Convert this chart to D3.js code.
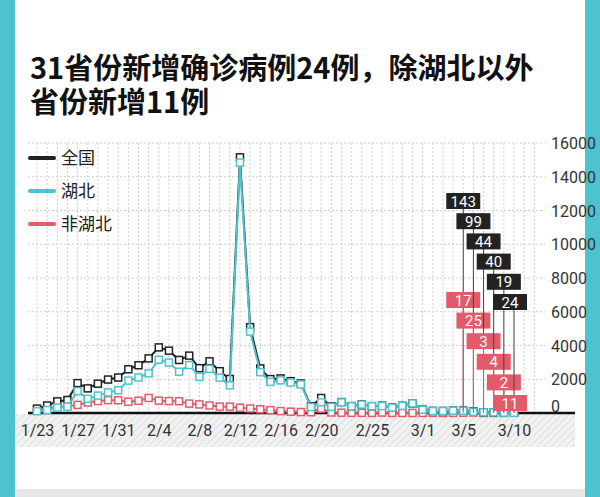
<!DOCTYPE html>
<html><head><meta charset="utf-8">
<script src="https://cdn.jsdelivr.net/npm/d3@7"></script>
<style>
body{margin:0;background:#fff;font-family:"Noto Sans CJK SC","Noto Sans",sans-serif;}
</style></head><body>
<svg id="chart" width="600" height="497"></svg>
<script>
// --- dati: 1/23 .. 3/10 ---
const startDate = new Date(2020, 0, 23);
const national = [259,444,688,769,1771,1459,1737,1982,2102,2590,2829,3235,3887,3694,3143,3399,2656,3062,2478,2015,15152,5090,2641,2009,2048,1886,1749,394,889,397,648,409,508,406,433,327,427,573,202,125,119,139,143,99,44,40,19,24];
const hubei = [105,180,323,371,1291,840,1032,1220,1347,1921,2103,2345,3156,2987,2447,2841,2147,2618,2097,1638,14840,4823,2420,1843,1933,1807,1693,349,631,366,630,398,499,401,409,318,423,570,196,114,115,134,126,74,41,36,17,13];
const nonHubei = [154,264,365,398,480,619,705,762,755,669,726,890,731,707,696,558,509,444,381,377,312,267,221,166,115,79,56,45,258,31,18,11,9,5,24,9,4,3,6,11,4,5,17,25,3,4,2,11];
const tickLabels = ["1/23","1/27","1/31","2/4","2/8","2/12","2/16","2/20","2/25","3/1","3/5","3/10"];
const yTicks = [0,2000,4000,6000,8000,10000,12000,14000,16000];
const legendItems = [["全国","#222"],["湖北","#4cc3cf"],["非湖北","#e35a6a"]];

const svg = d3.select("#chart");
const day = i => d3.timeDay.offset(startDate, i);
const x = d3.scaleTime().domain([startDate, day(47)]).range([37, 514]);
const y = d3.scaleLinear().domain([0, 16000]).range([413, 143]);

// bordi laterali
svg.append("rect").attr("x",0).attr("y",0).attr("width",15).attr("height",497).attr("fill","#4cc3cf");
svg.append("rect").attr("x",585).attr("y",0).attr("width",15).attr("height",497).attr("fill","#4cc3cf");
svg.append("rect").attr("x",15).attr("y",489).attr("width",570).attr("height",8).attr("fill","#e6e6e6");

// titolo
const title = svg.append("text").attr("font-size",29).attr("font-weight","bold").attr("fill","#111");
title.append("tspan").attr("x",30).attr("y",79).text("31省份新增确诊病例24例，除湖北以外");
title.append("tspan").attr("x",30).attr("y",113).text("省份新增11例");

// griglia
const defs = svg.append("defs");
const pat = defs.append("pattern").attr("id","hatch").attr("width",5).attr("height",5)
  .attr("patternUnits","userSpaceOnUse").attr("patternTransform","rotate(45)");
pat.append("rect").attr("width",5).attr("height",5).attr("fill","#f2f2f2");
pat.append("line").attr("x1",0).attr("y1",0).attr("x2",0).attr("y2",5).attr("stroke","#d8d8d8").attr("stroke-width",1.5);
svg.append("rect").attr("x",15).attr("y",414).attr("width",560).attr("height",33).attr("fill","url(#hatch)");

const grid = svg.append("g");
d3.range(-1, 50).forEach(i => {
  const xx = x(day(i));
  if (xx < 28 || xx > 545) return;
  grid.append("line").attr("x1",xx).attr("x2",xx).attr("y1",143).attr("y2",413)
    .attr("stroke","#cfcfcf").attr("stroke-dasharray","2,2");
});
yTicks.forEach(t => {
  grid.append("line").attr("x1",28).attr("x2",545).attr("y1",y(t)).attr("y2",y(t))
    .attr("stroke","#cfcfcf").attr("stroke-dasharray","2,2");
});

// assi
const yAxis = svg.append("g").attr("transform","translate(548,0)")
  .call(d3.axisRight(y).tickValues(yTicks).tickSize(0).tickFormat(d3.format("d")));
yAxis.select(".domain").remove();
yAxis.selectAll("text").attr("font-size",16).attr("fill","#333").attr("font-family","Roboto,sans-serif").attr("dy","0.35em");
yAxis.selectAll(".tick text").filter(d => d === 0).attr("dy","-0.1em");

svg.append("line").attr("x1",28).attr("x2",575).attr("y1",413).attr("y2",413).attr("stroke","#111").attr("stroke-width",2.5);

const tickDates = tickLabels.map(s => { const [m,d] = s.split("/").map(Number); return new Date(2020, m-1, d); });
const xAxis = svg.append("g").attr("transform","translate(0,414)")
  .call(d3.axisBottom(x).tickValues(tickDates).tickSize(0).tickFormat((d,i) => tickLabels[i]));
xAxis.select(".domain").remove();
xAxis.selectAll("text").attr("font-size",16).attr("fill","#333").attr("font-family","Roboto,sans-serif").attr("dy","1.2em");

// linee
function series(vals, color) {
  const g = svg.append("g");
  g.append("path").datum(vals)
    .attr("d", d3.line().x((d,i) => x(day(i))).y(d => y(d)))
    .attr("fill","none").attr("stroke",color).attr("stroke-width",2);
  g.selectAll("rect").data(vals).enter().append("rect")
    .attr("x",(d,i) => x(day(i)) - 3.5).attr("y",d => y(d) - 3.5)
    .attr("width",7).attr("height",7).attr("fill","#fff").attr("stroke",color).attr("stroke-width",1.5);
}
series(nonHubei, "#e35a6a");
series(national, "#222");
series(hubei, "#4cc3cf");

// annotazioni ultimi 6 giorni
const n = national.length;
const last = d3.range(n - 6, n);
last.forEach((idx, k) => {
  const px = x(day(idx));
  const bx = Math.min(px, 510);
  const by = 201 + k * 20.2;
  const ry = 300 + k * 20.6;
  svg.append("line").attr("x1",px).attr("x2",px).attr("y1",by).attr("y2",y(national[idx]))
    .attr("stroke","#444").attr("stroke-width",1);
  svg.append("line").attr("x1",px).attr("x2",px).attr("y1",ry).attr("y2",413)
    .attr("stroke","#e35a6a").attr("stroke-width",1);
  const bg = svg.append("g");
  bg.append("rect").attr("x",bx-17).attr("y",by-8).attr("width",34).attr("height",16).attr("fill","#222");
  bg.append("text").attr("x",bx).attr("y",by+5.5).attr("text-anchor","middle").attr("fill","#fff")
    .attr("font-size",15).attr("font-family","Roboto,sans-serif").text(national[idx]);
  const rg = svg.append("g");
  rg.append("rect").attr("x",bx-17).attr("y",ry-8).attr("width",34).attr("height",16).attr("fill","#e35a6a");
  rg.append("text").attr("x",bx).attr("y",ry+5.5).attr("text-anchor","middle").attr("fill","#fff")
    .attr("font-size",15).attr("font-family","Roboto,sans-serif").text(nonHubei[idx]);
});

// legenda
legendItems.forEach((it, i) => {
  const ly = 158 + i * 33;
  svg.append("line").attr("x1",30).attr("x2",54).attr("y1",ly).attr("y2",ly)
    .attr("stroke",it[1]).attr("stroke-width",4).attr("stroke-linecap","round");
  svg.append("text").attr("x",61).attr("y",ly+6).attr("font-size",17).attr("fill","#222").text(it[0]);
});
</script>
</body></html>
